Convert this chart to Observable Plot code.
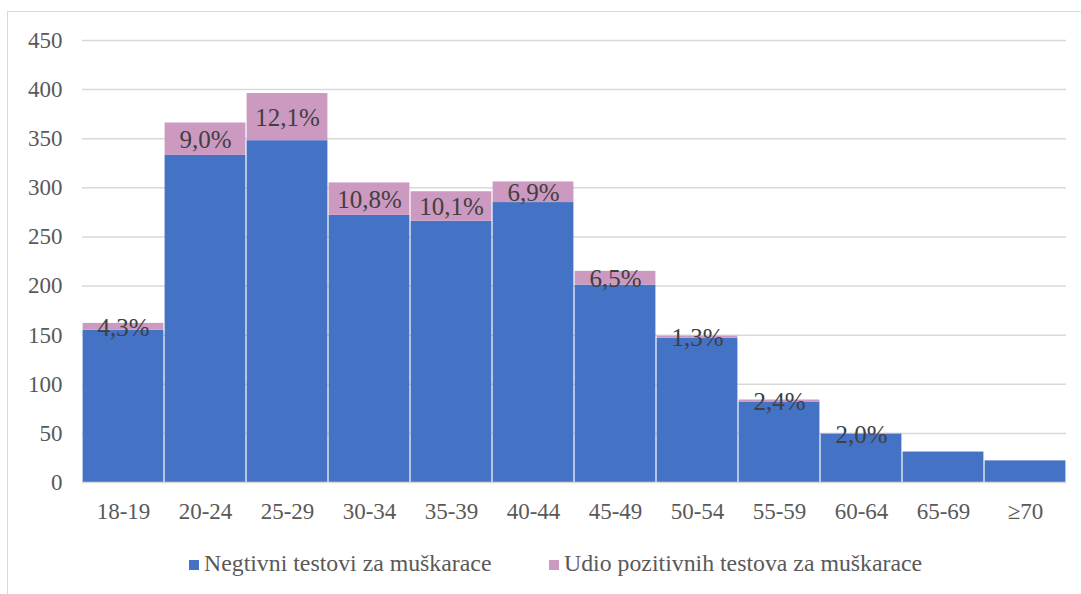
<!DOCTYPE html>
<html>
<head>
<meta charset="utf-8">
<script src="https://cdn.jsdelivr.net/npm/d3@7"></script>
<script src="https://cdn.jsdelivr.net/npm/@observablehq/plot@0.6"></script>
<style>
  html, body { margin: 0; padding: 0; background: #fff; }
  #frame { position: absolute; left: 7px; top: 11px; width: 1074px; height: 583px;
           border-left: 1.5px solid #d9d9d9; border-top: 1.5px solid #d9d9d9; }
  #chart { position: absolute; left: 0; top: 0; }
  #legend { position: absolute; left: 0; top: 548px; width: 1081px; height: 30px;
            font-family: "Liberation Serif", serif; font-size: 23.8px; color: #595959; }
  .item { position: absolute; top: 0; white-space: nowrap; line-height: 30px; }
  .sw { display: inline-block; width: 10px; height: 10px; margin-right: 5px; vertical-align: 1px; }
</style>
</head>
<body>
<div id="frame"></div>
<div id="chart"></div>
<div id="legend"></div>
<script>
const categories = ["18-19","20-24","25-29","30-34","35-39","40-44","45-49","50-54","55-59","60-64","65-69","≥70"];
const negative = [155, 333, 348, 272, 266, 285, 201, 147, 82, 49, 31, 22];
const positive = [7, 33, 48, 33, 30, 21, 14, 2, 2, 1, 0, 0];
const pctLabels = ["4,3%","9,0%","12,1%","10,8%","10,1%","6,9%","6,5%","1,3%","2,4%","2,0%","",""];
const seriesNames = ["Negtivni testovi za muškarace", "Udio pozitivnih testova za muškarace"];
const colors = ["#4472c4", "#cc99c1"];
const yTicks = [0, 50, 100, 150, 200, 250, 300, 350, 400, 450];

const rows = [];
categories.forEach((c, i) => {
  rows.push({cat: c, series: seriesNames[0], value: negative[i]});
  rows.push({cat: c, series: seriesNames[1], value: positive[i]});
});
const labels = categories.map((c, i) => ({cat: c, y: negative[i] + positive[i] / 2, label: pctLabels[i]}))
  .filter(d => d.label);

const chart = Plot.plot({
  width: 1081,
  height: 535,
  marginLeft: 82,
  marginRight: 15,
  marginTop: 40,
  marginBottom: 53,
  style: {fontFamily: "'Liberation Serif', serif", background: "transparent", overflow: "visible"},
  x: {domain: categories, padding: 0, label: null},
  y: {domain: [0, 450], label: null},
  color: {domain: seriesNames, range: colors},
  marks: [
    Plot.ruleY(yTicks.filter(t => t > 0), {stroke: "#d9d9d9", strokeWidth: 1.5}),
    Plot.barY(rows, {x: "cat", y: "value", fill: "series", order: seriesNames, insetLeft: 0.6, insetRight: 0.6}),
    Plot.ruleY([0], {stroke: "#d9d9d9", strokeWidth: 1.5}),
    Plot.axisY({ticks: yTicks, tickSize: 0, tickPadding: 20, fontSize: 23, fill: "#595959", label: null}),
    Plot.axisX({tickSize: 0, tickPadding: 20, fontSize: 23, fill: "#595959", label: null}),
    Plot.text(labels, {x: "cat", y: "y", text: "label", fontSize: 25, fill: "#404040", dy: 1})
  ]
});
chart.querySelectorAll("text").forEach(t => t.setAttribute("fill-opacity", "1"));
document.getElementById("chart").appendChild(chart);

const legend = document.getElementById("legend");
const lx = [189, 549];
seriesNames.forEach((name, i) => {
  const d = document.createElement("div");
  d.className = "item";
  d.style.left = lx[i] + "px";
  const s = document.createElement("span");
  s.className = "sw";
  s.style.background = colors[i];
  d.appendChild(s);
  d.appendChild(document.createTextNode(name));
  legend.appendChild(d);
});
</script>
</body>
</html>
